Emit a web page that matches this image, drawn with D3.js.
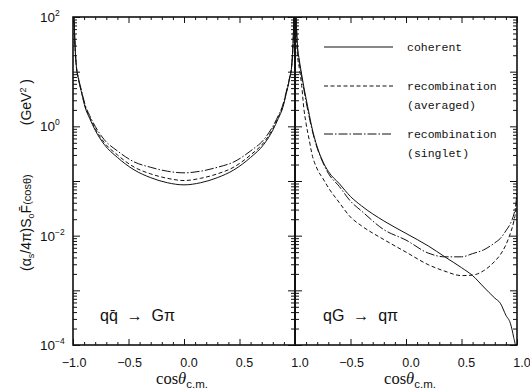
<!DOCTYPE html>
<html>
<head>
<meta charset="utf-8">
<script src="https://cdn.jsdelivr.net/npm/d3@7"></script>
<style>
  body { margin: 0; background: #fff; }
  svg { display: block; }
  .tick-label { font-family: "Liberation Sans", Arial, sans-serif; font-size: 12.5px; fill: #111; }
  .legend-text { font-family: "Liberation Mono", "DejaVu Sans Mono", monospace; font-size: 11.5px; fill: #111; }
</style>
</head>
<body>
<svg id="chart"></svg>
<script>
// ---- data ----
const xLeft = [-0.995, -0.985, -0.97, -0.95, -0.92, -0.89, -0.85, -0.8, -0.72, -0.6, -0.45, -0.3, -0.15, 0,
               0.15, 0.3, 0.45, 0.6, 0.72, 0.8, 0.85, 0.89, 0.92, 0.95, 0.97, 0.985, 0.995];
const coherentLeft = [251, 44.7, 12.6, 7.2, 3.9, 2.2, 1.4, 0.85, 0.47, 0.27, 0.16, 0.115, 0.093, 0.085,
                      0.093, 0.115, 0.16, 0.27, 0.47, 0.85, 1.4, 2.2, 3.9, 7.2, 12.6, 44.7, 251];
const averagedLeft = [251, 45, 12.6, 7.4, 4.0, 2.3, 1.48, 0.91, 0.51, 0.30, 0.18, 0.135, 0.112, 0.102,
                      0.112, 0.135, 0.18, 0.30, 0.51, 0.91, 1.48, 2.3, 4.0, 7.4, 12.6, 45, 251];
const singletLeft = [257, 46, 12.9, 7.6, 4.2, 2.45, 1.58, 1.0, 0.575, 0.355, 0.224, 0.178, 0.151, 0.141,
                     0.151, 0.178, 0.224, 0.355, 0.575, 1.0, 1.58, 2.45, 4.2, 7.6, 12.9, 46, 257];

const xRight = [-0.995, -0.98, -0.96, -0.94, -0.92, -0.9, -0.87, -0.85, -0.8, -0.75, -0.7, -0.6, -0.5, -0.4,
                -0.2, 0, 0.2, 0.35, 0.5, 0.6, 0.7, 0.8, 0.85, 0.9, 0.94, 0.97, 0.99, 1.0];
const coherentRight = [200, 35.5, 15.8, 8.9, 5.2, 3.2, 1.58, 1.0, 0.42, 0.23, 0.15, 0.089, 0.052, 0.035,
                       0.0186, 0.011, 0.0065, 0.0041, 0.0026, 0.00186, 0.00115, 0.00072, 0.00058, 0.00035,
                       0.00025, 0.000138, 0.00008, 0.000025];
const averagedRight = [158, 22.4, 11.2, 5.6, 2.1, 1.12, 0.54, 0.33, 0.166, 0.112, 0.076, 0.040, 0.0219, 0.0151,
                       0.0085, 0.0050, 0.00295, 0.00224, 0.00186, 0.0019, 0.00229, 0.0034, 0.0045, 0.0068,
                       0.011, 0.0178, 0.030, 0.050];
const singletRight = [200, 31.6, 14.1, 7.9, 4.7, 2.8, 1.41, 0.93, 0.40, 0.22, 0.138, 0.079, 0.0427, 0.0282,
                      0.0129, 0.0083, 0.0048, 0.0041, 0.0041, 0.0047, 0.0055, 0.0074, 0.0089, 0.0123,
                      0.0166, 0.024, 0.038, 0.063];

const xTickLabelsLeft = ["\u22121.0", "\u22120.5", "0.0", "0.5", "1.0"];
const xTickLabelsRight = ["", "\u22120.5", "0.0", "0.5", "1.0"];
const yTickExps = [2, 0, -2, -4];
const legendNames = ["coherent", "recombination", "recombination"];
const legendSub = ["", "(averaged)", "(singlet)"];

// ---- layout ----
const W = 530, H = 391;
const plotTop = 17, plotBottom = 345;
const plotLeft = 73, plotMid = 295, plotRight = 517;

const svg = d3.select('#chart').attr('width', W).attr('height', H);

const y = d3.scaleLog().domain([1e-4, 1e2]).range([plotBottom, plotTop]);
const xL = d3.scaleLinear().domain([-1, 1]).range([plotLeft, plotMid]);
const xR = d3.scaleLinear().domain([-1, 1]).range([plotMid, plotRight]);

const styles = [
  { dash: null },
  { dash: '4,2.5' },
  { dash: '9,2,1.5,2' }
];

svg.append('clipPath').attr('id', 'clipL')
  .append('rect').attr('x', plotLeft).attr('y', plotTop).attr('width', plotMid - plotLeft).attr('height', plotBottom - plotTop);
svg.append('clipPath').attr('id', 'clipR')
  .append('rect').attr('x', plotMid).attr('y', plotTop).attr('width', plotRight - plotMid).attr('height', plotBottom - plotTop);

function drawPanel(xs, xVals, series, clipId) {
  const g = svg.append('g').attr('clip-path', `url(#${clipId})`);
  series.forEach((vals, i) => {
    const line = d3.line()
      .x((d, j) => xs(xVals[j]))
      .y(d => y(d))
      .curve(d3.curveMonotoneX);
    g.append('path')
      .datum(vals)
      .attr('d', line)
      .attr('fill', 'none')
      .attr('stroke', '#111')
      .attr('stroke-width', 1)
      .attr('stroke-dasharray', styles[i].dash);
  });
}

drawPanel(xL, xLeft, [coherentLeft, averagedLeft, singletLeft], 'clipL');
drawPanel(xR, xRight, [coherentRight, averagedRight, singletRight], 'clipR');

// ---- frame and ticks ----
const majorY = d3.range(-4, 3).map(e => Math.pow(10, e));
const minorY = [];
for (let e = -4; e < 2; e++) for (let k = 2; k < 10; k++) minorY.push(k * Math.pow(10, e));
const majorX = [-1, -0.5, 0, 0.5, 1];
const minorX = d3.range(-10, 11).map(d => d / 10).filter(d => Math.abs(d * 2 - Math.round(d * 2)) > 1e-6);

function addAxis(axis, tx, ty) {
  const g = svg.append('g').attr('transform', `translate(${tx},${ty})`).call(axis);
  g.select('.domain').remove();
  g.selectAll('line').attr('stroke', '#111').attr('stroke-width', 1);
  return g;
}

// left frame: ticks point inward
addAxis(d3.axisLeft(y).tickValues(majorY).tickSize(-7).tickFormat(''), plotLeft, 0);
addAxis(d3.axisLeft(y).tickValues(minorY).tickSize(-4).tickFormat(''), plotLeft, 0);
// right frame
addAxis(d3.axisRight(y).tickValues(majorY).tickSize(-7).tickFormat(''), plotRight, 0);
addAxis(d3.axisRight(y).tickValues(minorY).tickSize(-4).tickFormat(''), plotRight, 0);
// divider: ticks on both sides
addAxis(d3.axisLeft(y).tickValues(majorY).tickSize(7).tickFormat(''), plotMid, 0);
addAxis(d3.axisLeft(y).tickValues(minorY).tickSize(4).tickFormat(''), plotMid, 0);
addAxis(d3.axisRight(y).tickValues(majorY).tickSize(7).tickFormat(''), plotMid, 0);
addAxis(d3.axisRight(y).tickValues(minorY).tickSize(4).tickFormat(''), plotMid, 0);

[xL, xR].forEach(xs => {
  addAxis(d3.axisBottom(xs).tickValues(majorX).tickSize(-6).tickFormat(''), 0, plotBottom);
  addAxis(d3.axisBottom(xs).tickValues(minorX).tickSize(-3).tickFormat(''), 0, plotBottom);
  addAxis(d3.axisTop(xs).tickValues(majorX).tickSize(-6).tickFormat(''), 0, plotTop);
  addAxis(d3.axisTop(xs).tickValues(minorX).tickSize(-3).tickFormat(''), 0, plotTop);
});

svg.append('rect')
  .attr('x', plotLeft).attr('y', plotTop)
  .attr('width', plotRight - plotLeft).attr('height', plotBottom - plotTop)
  .attr('fill', 'none').attr('stroke', '#111').attr('stroke-width', 1.6);
svg.append('line')
  .attr('x1', plotMid).attr('x2', plotMid).attr('y1', plotTop).attr('y2', plotBottom)
  .attr('stroke', '#111').attr('stroke-width', 2);

// ---- tick labels ----
const yLab = svg.append('g').attr('class', 'tick-label');
yTickExps.forEach(e => {
  const t = yLab.append('text')
    .attr('x', 40)
    .attr('y', y(Math.pow(10, e)) + 5)
    .attr('font-size', 13.5);
  t.append('tspan').text('10');
  t.append('tspan').attr('dy', -6).attr('font-size', 8.5).text(e < 0 ? '\u2212' + (-e) : e);
});

function xLabels(xs, labels) {
  labels.forEach((lab, i) => {
    if (!lab) return;
    svg.append('text')
      .attr('class', 'tick-label')
      .attr('x', xs(majorX[i]) + (lab.startsWith('\u2212') ? 1 : 5))
      .attr('y', 367)
      .attr('text-anchor', 'middle')
      .text(lab);
  });
}
xLabels(xL, xTickLabelsLeft);
xLabels(xR, xTickLabelsRight);

// x titles
[182, 410].forEach(cx => {
  const t = svg.append('text')
    .attr('x', cx).attr('y', 384)
    .attr('text-anchor', 'middle')
    .attr('font-family', '"Liberation Serif", "DejaVu Serif", serif')
    .attr('font-size', 16.5)
    .attr('fill', '#111');
  t.append('tspan').text('cos');
  t.append('tspan').attr('font-style', 'italic').text('\u03b8');
  t.append('tspan').attr('dy', 4).attr('font-size', 11.5)
    .attr('font-family', '"Liberation Sans", Arial, sans-serif').text('c.m.');
});

// y title: main part grows up from the bottom, unit part ends near the top
const titleFont = '"Liberation Sans", Arial, sans-serif';
const yt = svg.append('text')
  .attr('transform', 'translate(31,271) rotate(-90)')
  .attr('text-anchor', 'start')
  .attr('font-family', titleFont)
  .attr('font-size', 14)
  .attr('fill', '#111');
yt.append('tspan').text('(\u03b1');
yt.append('tspan').attr('dy', 3).attr('font-size', 9).text('s');
yt.append('tspan').attr('dy', -3).text('/4\u03c0)S');
yt.append('tspan').attr('dy', 3).attr('font-size', 9).text('o');
yt.append('tspan').attr('dy', -3).text('F\u0304');
yt.append('tspan').attr('font-size', 11).text('(cos\u03b8)');

const yu = svg.append('text')
  .attr('transform', 'translate(31,79) rotate(-90)')
  .attr('text-anchor', 'end')
  .attr('font-family', titleFont)
  .attr('font-size', 14)
  .attr('fill', '#111');
yu.append('tspan').text('(GeV');
yu.append('tspan').attr('dy', -5).attr('font-size', 9).text('2');
yu.append('tspan').attr('dy', 5).text(' )');

// process labels
const procStyle = t => t
  .attr('font-family', '"Liberation Sans", Arial, sans-serif')
  .attr('font-size', 16).attr('fill', '#111')
  .attr('xml:space', 'preserve').style('white-space', 'pre');
procStyle(svg.append('text').attr('x', 100).attr('y', 321)).text('qq\u0304  \u2192  G\u03c0');
procStyle(svg.append('text').attr('x', 323).attr('y', 321)).text('qG  \u2192  q\u03c0');

// ---- legend ----
const legendY = [47, 86, 134];
legendY.forEach((ly, i) => {
  svg.append('line')
    .attr('x1', 324).attr('x2', 393)
    .attr('y1', ly).attr('y2', ly)
    .attr('stroke', '#111').attr('stroke-width', 1)
    .attr('stroke-dasharray', styles[i].dash);
  svg.append('text').attr('class', 'legend-text')
    .attr('x', 407).attr('y', ly + 4).text(legendNames[i]);
  if (legendSub[i]) {
    svg.append('text').attr('class', 'legend-text')
      .attr('x', 407).attr('y', ly + 23).text(legendSub[i]);
  }
});
</script>
</body>
</html>
